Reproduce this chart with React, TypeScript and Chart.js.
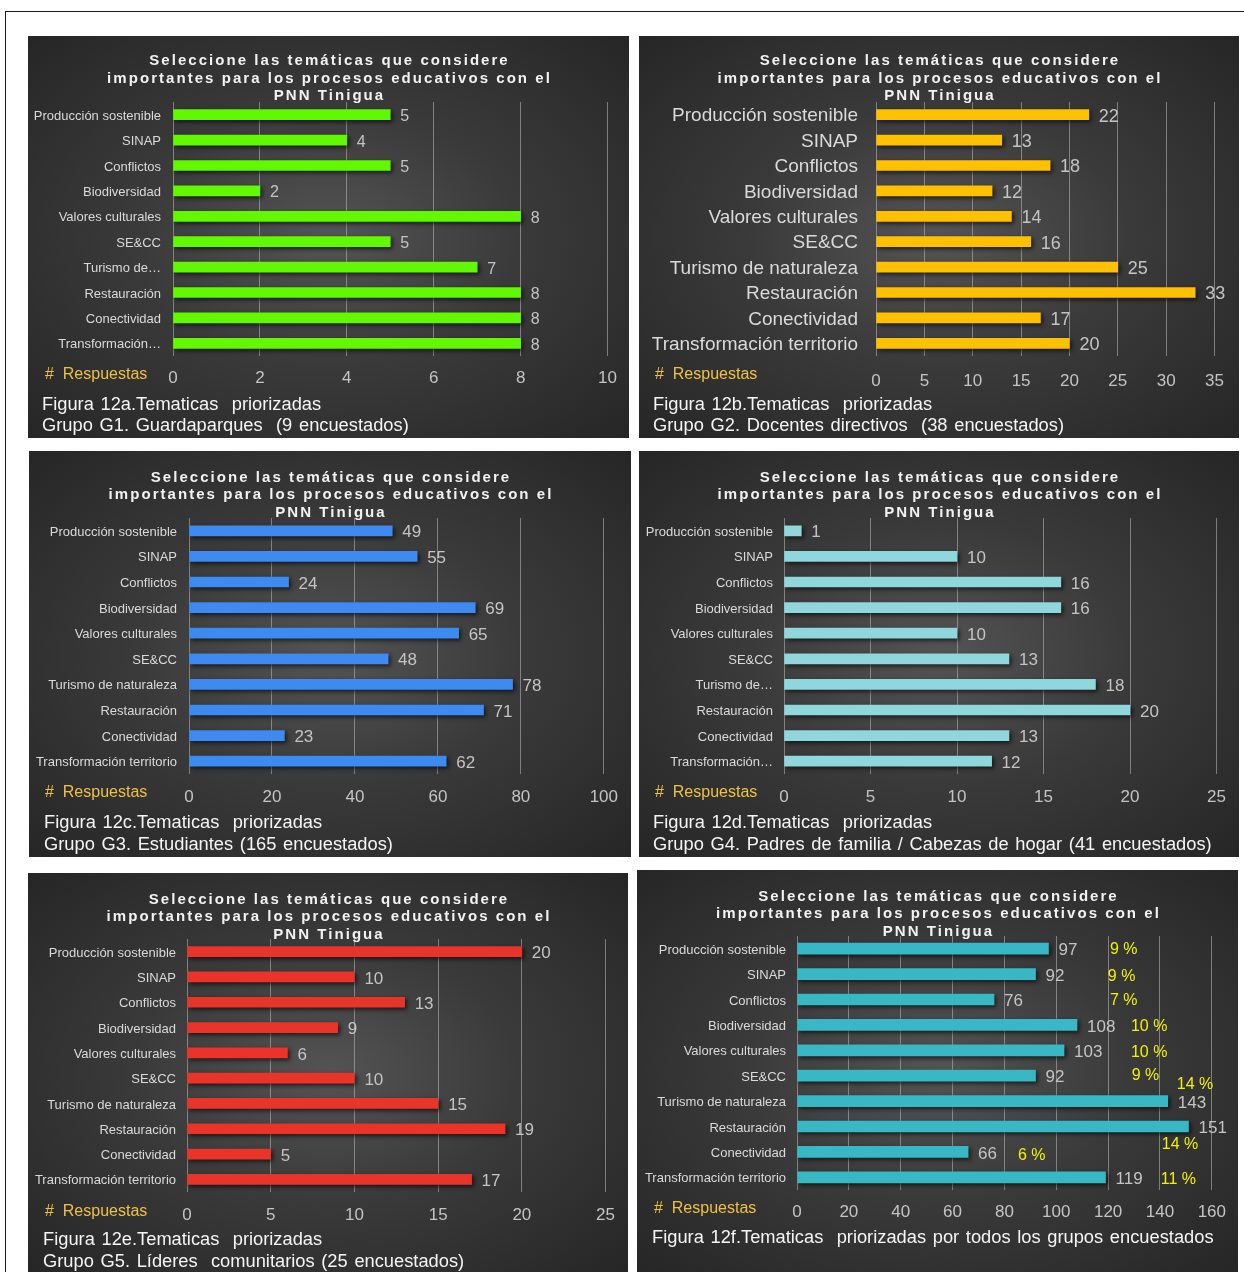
import React, { useEffect, useRef } from "react";
import { Chart, registerables } from "chart.js";
Chart.register(...registerables);

const FONT = "'Liberation Sans', Arial, sans-serif";

const categoriesFull = [
  "Producción sostenible",
  "SINAP",
  "Conflictos",
  "Biodiversidad",
  "Valores culturales",
  "SE&CC",
  "Turismo de naturaleza",
  "Restauración",
  "Conectividad",
  "Transformación territorio",
];
const categoriesShort = [
  "Producción sostenible",
  "SINAP",
  "Conflictos",
  "Biodiversidad",
  "Valores culturales",
  "SE&CC",
  "Turismo de…",
  "Restauración",
  "Conectividad",
  "Transformación…",
];

const valuesG1 = [5, 4, 5, 2, 8, 5, 7, 8, 8, 8];
const valuesG2 = [22, 13, 18, 12, 14, 16, 25, 33, 17, 20];
const valuesG3 = [49, 55, 24, 69, 65, 48, 78, 71, 23, 62];
const valuesG4 = [1, 10, 16, 16, 10, 13, 18, 20, 13, 12];
const valuesG5 = [20, 10, 13, 9, 6, 10, 15, 19, 5, 17];
const valuesAll = [97, 92, 76, 108, 103, 92, 143, 151, 66, 119];
const percentAll = [9, 9, 7, 10, 10, 9, 14, 14, 6, 11];

// placement of the percentage labels (axis value where the text starts, vertical offset)
const pctAnchorValue = [120.7, 119.9, 120.7, 128.8, 128.8, 129.1, 146.5, 140.7, 85.2, 140.3];
const pctOffsetY = [0, 1, 0, 1, 1, -1, -18, 17, 3, 1];

const titleLines = [
  "Seleccione las temáticas que considere",
  "importantes para los procesos educativos con el",
  "PNN Tinigua",
];
const axisNote = "#  Respuestas";

const captionsA = ["Figura 12a.Tematicas  priorizadas", "Grupo G1. Guardaparques  (9 encuestados)"];
const captionsB = ["Figura 12b.Tematicas  priorizadas", "Grupo G2. Docentes directivos  (38 encuestados)"];
const captionsC = ["Figura 12c.Tematicas  priorizadas", "Grupo G3. Estudiantes (165 encuestados)"];
const captionsD = ["Figura 12d.Tematicas  priorizadas", "Grupo G4. Padres de familia / Cabezas de hogar (41 encuestados)"];
const captionsE = ["Figura 12e.Tematicas  priorizadas", "Grupo G5. Líderes  comunitarios (25 encuestados)"];
const captionsF = ["Figura 12f.Tematicas  priorizadas por todos los grupos encuestados"];

type PanelCfg = {
  left: number; top: number; width: number; height: number;
  labels: string[]; values: number[]; color: string;
  max: number; step: number;
  yWidth: number; padRight: number; padTop: number; xHeight: number;
  yFont: number; yPad: number; dataFont: number; tickFont: number; tickPad: number;
  titleY: number[]; noteX: number; noteY: number;
  captions: string[]; captionX: number; captionY: number[];
  barThickness: number; pct?: boolean;
};

const panels: PanelCfg[] = [
  {
    left: 28, top: 36, width: 601, height: 402, labels: categoriesShort, values: valuesG1, color: "#62f800",
    max: 10, step: 2, yWidth: 145, padRight: 21, padTop: 66, xHeight: 82,
    yFont: 13, yPad: 12, dataFont: 16, tickFont: 17, tickPad: 12,
    titleY: [25, 43, 60], noteX: 17, noteY: 339, captions: captionsA, captionX: 14, captionY: [369, 390], barThickness: 10,
  },
  {
    left: 639, top: 36, width: 600, height: 402, labels: categoriesFull, values: valuesG2, color: "#ffc000",
    max: 35, step: 5, yWidth: 237, padRight: 22, padTop: 66, xHeight: 82,
    yFont: 19, yPad: 18, dataFont: 18, tickFont: 17, tickPad: 15,
    titleY: [25, 43, 60], noteX: 16, noteY: 339, captions: captionsB, captionX: 14, captionY: [369, 390], barThickness: 10,
  },
  {
    left: 29, top: 451, width: 602, height: 406, labels: categoriesFull, values: valuesG3, color: "#3d8af0",
    max: 100, step: 20, yWidth: 160, padRight: 26, padTop: 67, xHeight: 83,
    yFont: 13, yPad: 12, dataFont: 17, tickFont: 17, tickPad: 13,
    titleY: [27, 44, 62], noteX: 16, noteY: 342, captions: captionsC, captionX: 15, captionY: [372, 394], barThickness: 10,
  },
  {
    left: 639, top: 451, width: 600, height: 406, labels: categoriesShort, values: valuesG4, color: "#8fd7dc",
    max: 25, step: 5, yWidth: 145, padRight: 21, padTop: 67, xHeight: 83,
    yFont: 13, yPad: 11, dataFont: 17, tickFont: 17, tickPad: 13,
    titleY: [27, 44, 62], noteX: 16, noteY: 342, captions: captionsD, captionX: 14, captionY: [372, 394], barThickness: 10,
  },
  {
    left: 28, top: 873, width: 600, height: 400, labels: categoriesFull, values: valuesG5, color: "#ea3429",
    max: 25, step: 5, yWidth: 159, padRight: 20, padTop: 66, xHeight: 81,
    yFont: 13, yPad: 11, dataFont: 17, tickFont: 17, tickPad: 13,
    titleY: [27, 44, 62], noteX: 17, noteY: 339, captions: captionsE, captionX: 15, captionY: [367, 389], barThickness: 10,
  },
  {
    left: 637, top: 870, width: 601, height: 402, labels: categoriesFull, values: valuesAll, color: "#37b8c4",
    max: 160, step: 20, yWidth: 160, padRight: 26, padTop: 66, xHeight: 82,
    yFont: 13, yPad: 11, dataFont: 17, tickFont: 17, tickPad: 12,
    titleY: [27, 44, 62], noteX: 17, noteY: 339, captions: captionsF, captionX: 15, captionY: [368], barThickness: 11, pct: true,
  },
];

function makeDecor(cfg: PanelCfg) {
  return {
    id: "decor",
    beforeDatasetsDraw(chart: any) {
      const ctx = chart.ctx;
      ctx.save();
      ctx.shadowColor = "rgba(0,0,0,0.65)";
      ctx.shadowBlur = 4;
      ctx.shadowOffsetX = 2;
      ctx.shadowOffsetY = 2;
    },
    afterDatasetsDraw(chart: any) {
      const ctx = chart.ctx;
      ctx.restore();
      const meta = chart.getDatasetMeta(0);
      ctx.save();
      ctx.font = `${cfg.dataFont}px ${FONT}`;
      ctx.fillStyle = "#c4c4c4";
      ctx.textBaseline = "middle";
      ctx.textAlign = "left";
      meta.data.forEach((el: any, i: number) => {
        ctx.fillText(String(cfg.values[i]), el.x + 10, el.y + 2);
      });
      if (cfg.pct) {
        const xs = chart.scales.x;
        ctx.fillStyle = "#f2f200";
        ctx.font = `16px ${FONT}`;
        meta.data.forEach((el: any, i: number) => {
          const px = xs.getPixelForValue(pctAnchorValue[i]);
          ctx.fillText(`${percentAll[i]} %`, px, el.y + pctOffsetY[i] + 1);
        });
      }
      ctx.restore();
    },
    afterDraw(chart: any) {
      const ctx = chart.ctx;
      ctx.save();
      ctx.textBaseline = "middle";
      ctx.textAlign = "center";
      ctx.fillStyle = "#f2f2f2";
      ctx.font = `bold 15px ${FONT}`;
      (ctx as any).letterSpacing = "2.05px";
      titleLines.forEach((t, i) => ctx.fillText(t, cfg.width / 2 + 1, cfg.titleY[i]));
      (ctx as any).letterSpacing = "0px";
      ctx.textAlign = "left";
      ctx.fillStyle = "#f0c045";
      ctx.font = `16px ${FONT}`;
      ctx.fillText(axisNote, cfg.noteX, cfg.noteY);
      ctx.fillStyle = "#f5f5f5";
      ctx.font = `18.3px ${FONT}`;
      (ctx as any).wordSpacing = "1.6px";
      cfg.captions.forEach((c, i) => ctx.fillText(c, cfg.captionX, cfg.captionY[i]));
      ctx.restore();
    },
  };
}

function Panel({ cfg }: { cfg: PanelCfg }) {
  const ref = useRef<HTMLCanvasElement>(null);
  useEffect(() => {
    if (!ref.current) return;
    const chart = new Chart(ref.current, {
      type: "bar",
      data: {
        labels: cfg.labels,
        datasets: [
          {
            data: cfg.values,
            backgroundColor: cfg.color,
            borderWidth: 0,
            barThickness: cfg.barThickness,
          },
        ],
      },
      options: {
        indexAxis: "y",
        responsive: false,
        animation: false,
        devicePixelRatio: 1,
        layout: { padding: { top: cfg.padTop, right: cfg.padRight, left: 0, bottom: 0 } },
        plugins: { legend: { display: false }, tooltip: { enabled: false }, title: { display: false } },
        scales: {
          x: {
            min: 0,
            max: cfg.max,
            ticks: {
              stepSize: cfg.step,
              color: "#c4c4c4",
              font: { size: cfg.tickFont, family: FONT },
              padding: cfg.tickPad,
              maxRotation: 0,
            },
            grid: { color: "rgba(190,190,190,0.55)", lineWidth: 1, drawTicks: false },
            border: { display: false },
            afterFit: (s: any) => {
              s.height = cfg.xHeight;
            },
          },
          y: {
            ticks: {
              color: "#dadada",
              font: { size: cfg.yFont, family: FONT },
              padding: cfg.yPad,
              autoSkip: false,
              labelOffset: 1.5,
            },
            grid: { display: false, drawTicks: false },
            border: { display: false },
            afterFit: (s: any) => {
              s.width = cfg.yWidth;
            },
          },
        },
      },
      plugins: [makeDecor(cfg)],
    } as any);
    return () => chart.destroy();
  }, [cfg]);
  return (
    <div
      style={{
        position: "absolute",
        left: cfg.left,
        top: cfg.top,
        width: cfg.width,
        height: cfg.height,
        background: "radial-gradient(ellipse farthest-corner at 50% 50%, #545454 0%, #3a3a3a 45%, #262626 100%)",
      }}
    >
      <canvas ref={ref} width={cfg.width} height={cfg.height} style={{ display: "block", width: cfg.width, height: cfg.height }} />
    </div>
  );
}

export default function App() {
  return (
    <div style={{ position: "fixed", left: 0, top: 0, width: 1244, height: 1272, overflow: "hidden", background: "#ffffff" }}>
      <div style={{ position: "absolute", left: 5, top: 11, width: 1300, height: 1300, borderLeft: "1px solid #1a1a1a", borderTop: "1px solid #1a1a1a" }} />
      {panels.map((p, i) => (
        <Panel key={i} cfg={p} />
      ))}
    </div>
  );
}
